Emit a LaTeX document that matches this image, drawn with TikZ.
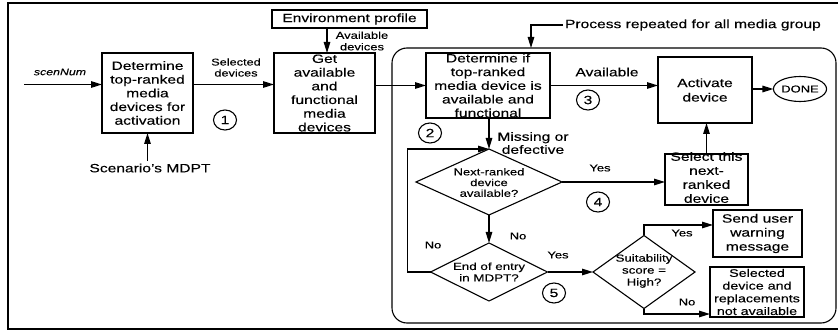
\documentclass[tikz,border=0pt]{standalone}
\usepackage{fontspec}
\setmainfont{Liberation Sans}[FakeStretch=1.3,FakeBold=0.2]
\usetikzlibrary{shapes.geometric,arrows.meta}
\tikzset{
  every node/.style={inner sep=0pt, outer sep=0pt},
  box/.style={draw, line width=1.1pt, rectangle},
  dia/.style={draw, line width=1.1pt, diamond},
  circ/.style={draw, line width=1.1pt, ellipse, minimum width=23pt, minimum height=20pt, font=\fontsize{12}{13}\selectfont},
  txt/.style={align=center, font=\fontsize{12}{13.7}\selectfont},
  lbl/.style={align=center, font=\fontsize{10}{11.5}\selectfont},
  arr/.style={line width=1.3pt, -{Triangle[length=11pt,width=6.5pt]}},
}
\begin{document}
\begin{tikzpicture}[x=1pt,y=-1pt]
\useasboundingbox (0,0) rectangle (838,331);
% outer frame
\draw[line width=1.3pt] (838,3) -- (8,3) -- (8,329) -- (838,329);
% repeated region
\node[draw, line width=1.1pt, rounded corners=15pt, minimum width=444pt, minimum height=275pt] (reg) at (614,185.5) {};

% boxes
\node[box, minimum width=91pt, minimum height=80pt] (b1) at (147.5,93) {};
\node[txt] at (b1) {Determine\\top-ranked\\media\\devices for\\activation};
\node[box, minimum width=101pt, minimum height=80pt] (b2) at (324.5,93) {};
\node[txt] at (b2) {Get\\available\\and\\functional\\media\\devices};
\node[box, minimum width=155pt, minimum height=18pt] (env) at (349.5,19) {};
\node[txt] at (env) {Environment profile};
\node[box, minimum width=124pt, minimum height=65pt] (b3) at (488,85.5) {};
\node[txt] at (b3) {Determine if\\top-ranked\\media device is\\available and\\functional};
\node[box, minimum width=94pt, minimum height=66pt] (act) at (705,90) {};
\node[txt, font=\fontsize{12}{14.5}\selectfont] at (act) {Activate\\device};
\node[draw, line width=1.1pt, ellipse, minimum width=50pt, minimum height=25pt, font=\fontsize{10}{12}\selectfont] (done) at (800,89) {DONE};
\node[box, minimum width=83pt, minimum height=51pt] (sel) at (706.5,179.5) {};
\node[txt, font=\fontsize{12}{14}\selectfont] at (706.5,177.5) {Select this\\next-\\ranked\\device};
\node[box, minimum width=89pt, minimum height=47pt] (send) at (757.5,233.5) {};
\node[txt, font=\fontsize{12}{14}\selectfont] at (send) {Send user\\warning\\message};
\node[box, minimum width=94pt, minimum height=50pt] (nav) at (757,292) {};
\node[txt, font=\fontsize{11}{12.7}\selectfont] at (nav) {Selected\\device and\\replacements\\not available};

% diamonds
\node[dia, minimum width=146pt, minimum height=66pt] (d1) at (489,182) {};
\node[lbl, font=\fontsize{10}{10.7}\selectfont] at (489,182.5) {Next-ranked\\device\\available?};
\node[dia, minimum width=117pt, minimum height=58pt] (d2) at (489,272) {};
\node[lbl, font=\fontsize{10.3}{11.5}\selectfont] at (489,272) {End of entry\\in MDPT?};
\node[dia, minimum width=102pt, minimum height=73pt] (d3) at (644,272) {};
\node[lbl, font=\fontsize{10.2}{12}\selectfont] at (644,271) {Suitability\\score =\\High?};

% circles
\node[circ] (c1) at (225,120) {1};
\node[circ] (c2) at (430,133) {2};
\node[circ] (c3) at (588,100) {3};
\node[circ] (c4) at (598,202) {4};
\node[circ] (c5) at (554,293) {5};

% texts / labels
\node[lbl, font=\fontsize{9.5}{11}\itshape] (scen) at (60,72) {scenNum};
\node[lbl, font=\fontsize{9.8}{11}\selectfont] (seld) at (236,67.5) {Selected\\devices};
\node[txt, inner sep=3pt] (mdpt) at (150,168) {Scenario's MDPT};
\node[lbl] (avd) at (362,41) {Available\\devices};
\node[txt, anchor=west, inner sep=2pt] (proc) at (563,25) {Process repeated for all media group};
\node[txt] (avl) at (607,72) {Available};
\node[txt, font=\fontsize{12}{13}\selectfont] (miss) at (533,143) {Missing or\\defective};
\node[lbl] (y1) at (600,168) {Yes};
\node[lbl] (n1) at (518,236) {No};
\node[lbl] (n2) at (433,245) {No};
\node[lbl] (y2) at (558,255) {Yes};
\node[lbl] (y3) at (682,233) {Yes};
\node[lbl] (n3) at (687,302) {No};

% helper coordinates
\coordinate (s0) at (24,84.5);
\coordinate (a1) at (327,0);
\coordinate (a2) at (531,0);
\coordinate (yy1) at (0,225);
\coordinate (yy2) at (0,314);

% connectors
\draw[arr] (s0) -- (s0 -| b1.west);
\draw[arr] (b1.east |- s0) -- (b2.west |- s0);
\draw[arr] (b1.south |- mdpt.north) -- (b1.south);
\draw[arr] (env.south -| a1) -- (b2.north -| a1);
\draw[arr] (b2.east |- b3.west) -- (b3.west);
\draw[arr] (proc.west) -| (reg.north -| a2);
\draw[arr] (b3.east) -- (b3.east -| act.west);
\draw[arr] (act.east |- done.west) -- (done.west);
\draw[arr] (sel.north) -- (sel.north |- act.south);
\draw[arr] (b3.south -| d1.north) -- (d1.north);
\draw[arr] (d1.east) -- (d1.east -| sel.west);
\draw[arr] (d1.south) -- (d2.north);
\draw[arr] (d2.west) -- ++(-23,0) |- (d1.north);
\draw[arr] (d2.east) -- (d3.west);
\draw[arr] (d3.north) |- (send.west |- yy1);
\draw[arr] (d3.south) |- (nav.west |- yy2);
\end{tikzpicture}
\end{document}
